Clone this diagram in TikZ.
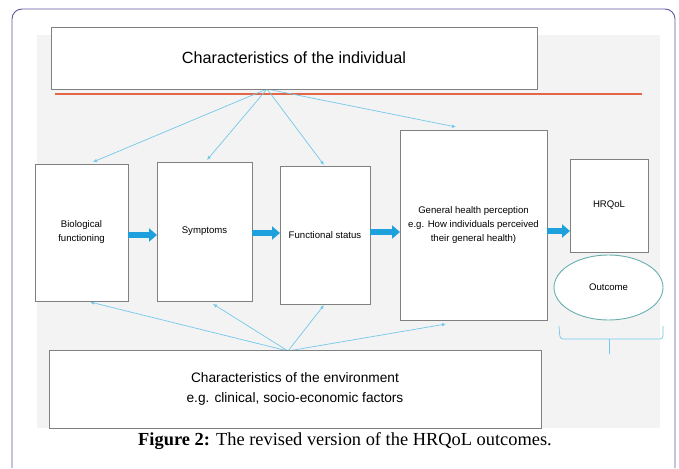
\documentclass[tikz,border=0pt]{standalone}
\usepackage{fontspec}
\setmainfont{Liberation Serif}
\setsansfont{Liberation Sans}
\usetikzlibrary{arrows.meta,shapes.geometric}
\pgfdeclarelayer{bglayer}
\pgfdeclarelayer{edgelayer}
\pgfdeclarelayer{nodelayer}
\pgfsetlayers{bglayer,edgelayer,nodelayer,main}
\definecolor{boxgrey}{RGB}{128,128,128}
\definecolor{panelgrey}{RGB}{243,243,243}
\definecolor{linkblue}{RGB}{115,200,235}
\definecolor{fatblue}{RGB}{30,160,220}
\definecolor{redline}{RGB}{228,102,72}
\definecolor{framecol}{RGB}{95,85,160}
\definecolor{ovalcol}{RGB}{105,175,175}
\tikzset{font=\sffamily\fontsize{9.6}{14}\selectfont}
\tikzstyle{none}=[inner sep=0pt]
\tikzstyle{box}=[rectangle,draw=boxgrey,fill=white,line width=0.9pt,inner sep=2pt,align=center]
\tikzstyle{oval}=[ellipse,draw=ovalcol,fill=white,line width=0.9pt,inner sep=0pt]
\tikzstyle{link}=[draw=linkblue,line width=0.7pt,-{Latex[length=4pt,width=3.5pt]}]
\tikzstyle{fat}=[draw=fatblue,line width=6pt,-{Triangle[length=8pt,width=13pt]}]

\begin{document}
\begin{tikzpicture}[x=1pt,y=-1pt]
	\useasboundingbox (0,0) rectangle (679,468);
	\begin{pgfonlayer}{bglayer}
		\fill[white] (0,0) rectangle (679,468);
		\draw[framecol,line width=0.9pt,rounded corners=10pt] (12,468) -- (12,9) -- (675,9) -- (675,468);
		\fill[panelgrey] (37,35) rectangle (660,428);
		\draw[redline,line width=2pt] (55,94) -- (642,94);
		\draw[linkblue,line width=0.7pt,rounded corners=3pt] (559,326) -- (560,339) -- (663,339) -- (663,326);
		\draw[linkblue,line width=0.7pt] (609,339) -- (609,354);
	\end{pgfonlayer}
	\begin{pgfonlayer}{nodelayer}
		\node [style=box, minimum width=486pt, minimum height=62pt, font=\sffamily\fontsize{16.2}{19}\selectfont] (0) at (294, 58) {Characteristics of the individual};
		\node [style=box, minimum width=93pt, minimum height=137pt] (1) at (81.5, 232.5) {Biological\\functioning};
		\node [style=box, minimum width=95pt, minimum height=139pt] (2) at (204.5, 231.5) {Symptoms};
		\node [style=box, minimum width=90pt, minimum height=138pt] (3) at (325, 235) {Functional status};
		\node [style=box, minimum width=147pt, minimum height=190pt] (4) at (473.5, 225.5) {General health perception\\e.g. How individuals perceived\\their general health)};
		\node [style=box, minimum width=78pt, minimum height=93pt] (5) at (609, 205.5) {HRQoL};
		\node [style=oval, minimum width=109pt, minimum height=65pt] (6) at (608.5, 287.5) {Outcome};
		\node [style=box, minimum width=492pt, minimum height=78pt, font=\sffamily\fontsize{13.7}{20}\selectfont] (7) at (295, 389) {Characteristics of the environment\\e.g. clinical, socio-economic factors};
		\node [font=\rmfamily\fontsize{18.4}{20}\selectfont] (8) at (345, 441) {\textbf{Figure 2:} The revised version of the HRQoL outcomes.};
		\node [style=none] (9) at (267, 89) {};
		\node [style=none] (10) at (93, 162) {};
		\node [style=none] (11) at (207, 160) {};
		\node [style=none] (12) at (324, 165) {};
		\node [style=none] (13) at (456, 127) {};
		\node [style=none] (14) at (288, 351) {};
		\node [style=none] (15) at (90, 302) {};
		\node [style=none] (16) at (213, 304) {};
		\node [style=none] (17) at (324, 305) {};
		\node [style=none] (18) at (446, 324) {};
		\node [style=none] (19) at (128, 235) {};
		\node [style=none] (20) at (157, 235) {};
		\node [style=none] (21) at (252, 233) {};
		\node [style=none] (22) at (280, 233) {};
		\node [style=none] (23) at (370, 232) {};
		\node [style=none] (24) at (400, 232) {};
		\node [style=none] (25) at (547, 231) {};
		\node [style=none] (26) at (570, 231) {};
	\end{pgfonlayer}
	\begin{pgfonlayer}{edgelayer}
		\draw [style=link] (9.center) to (10.center);
		\draw [style=link] (9.center) to (11.center);
		\draw [style=link] (9.center) to (12.center);
		\draw [style=link] (9.center) to (13.center);
		\draw [style=link] (14.center) to (15.center);
		\draw [style=link] (14.center) to (16.center);
		\draw [style=link] (14.center) to (17.center);
		\draw [style=link] (14.center) to (18.center);
	\end{pgfonlayer}
	\draw [style=fat] (19.center) to (20.center);
	\draw [style=fat] (21.center) to (22.center);
	\draw [style=fat] (23.center) to (24.center);
	\draw [style=fat] (25.center) to (26.center);
\end{tikzpicture}
\end{document}
